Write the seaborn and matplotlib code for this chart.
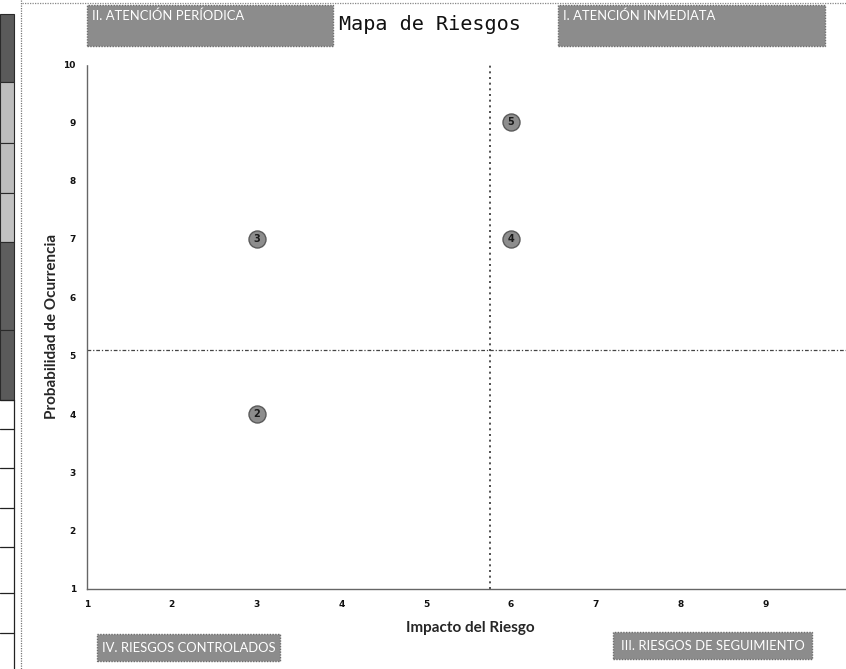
import matplotlib
matplotlib.use("Agg")
import matplotlib.pyplot as plt
from matplotlib.patches import Rectangle
from matplotlib.lines import Line2D
import seaborn as sns
import pandas as pd

# Risk map data
riesgo = ["2", "3", "4", "5"]
impacto = [3, 3, 6, 6]
probabilidad = [4, 7, 7, 9]
x_ticks = [1, 2, 3, 4, 5, 6, 7, 8, 9]
y_ticks = [1, 2, 3, 4, 5, 6, 7, 8, 9, 10]
corte_impacto = 5.75
corte_probabilidad = 5.1

df = pd.DataFrame({"riesgo": riesgo, "impacto": impacto, "probabilidad": probabilidad})

sns.set_theme(style="white")
plt.rcParams["font.family"] = ["DejaVu Sans"]

W, H = 846, 669
fig = plt.figure(figsize=(W / 100, H / 100), dpi=100)
fig.patch.set_facecolor("white")


def fx(px):
    return px / W


def fy(py):
    return 1 - py / H


ax = fig.add_axes([fx(87), fy(589), fx(846) - fx(87), fy(64) - fy(589)])
ax.set_facecolor("white")

sns.scatterplot(data=df, x="impacto", y="probabilidad", ax=ax, s=150,
                color="#8d8d8d", edgecolor="#5a5a5a", linewidth=1.0, zorder=4,
                legend=False)
for r, xv, yv in zip(df["riesgo"], df["impacto"], df["probabilidad"]):
    ax.text(xv, yv, r, ha="center", va="center", fontsize=7, fontweight="bold",
            color="#1a1a1a", zorder=5)

ax.axvline(corte_impacto, color="#333333", linestyle=(0, (1.2, 2.2)), linewidth=1.2, zorder=2)
ax.axhline(corte_probabilidad, color="#444444", linestyle=(0, (3, 1.5, 1, 1.5)), linewidth=0.9, zorder=2)

ax.set_xlim(1, 1 + (846 - 87) / 84.8)
ax.set_ylim(1, 10)
ax.set_xticks(x_ticks)
ax.set_yticks(y_ticks)
ax.set_xticklabels([str(v) for v in x_ticks], fontsize=6.5, fontweight="bold")
ax.set_yticklabels([str(v) for v in y_ticks], fontsize=6.5, fontweight="bold")
ax.tick_params(axis="both", length=0, colors="#111111")
ax.tick_params(axis="x", pad=8)
ax.tick_params(axis="y", pad=8)

for side in ["top", "right"]:
    ax.spines[side].set_visible(False)
for side in ["left", "bottom"]:
    ax.spines[side].set_visible(True)
    ax.spines[side].set_color("#666666")
    ax.spines[side].set_linewidth(1.0)
    ax.spines[side].set_linestyle((0, (1, 1)))

ax.set_xlabel("Impacto del Riesgo", fontsize=11, fontweight="bold",
              family=["Lato", "DejaVu Sans"], labelpad=4)
ax.set_ylabel("Probabilidad de Ocurrencia", fontsize=11, fontweight="bold",
              family=["Lato", "DejaVu Sans"], labelpad=8)
ax.xaxis.set_label_coords((470 - 87) / (846 - 87), -(621 - 589) / (589 - 64))
ax.yaxis.set_label_coords(-(87 - 59) / (846 - 87), (589 - 326) / (589 - 64))

# Quadrant labels
caja_font = ["Lato", "DejaVu Sans"]


def caja(x0, y0, x1, y1, texto, centrado=False, size=9.5):
    fig.add_artist(Rectangle((fx(x0), fy(y1)), fx(x1) - fx(x0), fy(y0) - fy(y1),
                             transform=fig.transFigure, facecolor="#8c8c8c",
                             edgecolor="#6e6e6e", linewidth=1.0,
                             linestyle=(0, (1, 1)), zorder=1))
    if centrado:
        fig.text(fx((x0 + x1) / 2), fy((y0 + y1) / 2), texto, ha="center", va="center",
                 color="white", fontsize=size, family=caja_font, zorder=2)
    else:
        fig.text(fx(x0 + 5), fy(y0 + 11), texto, ha="left", va="center",
                 color="white", fontsize=size, family=caja_font, zorder=2)


caja(87, 5, 333, 46, "II. ATENCIÓN PERÍODICA", size=9.4)
caja(558, 5, 825, 46, "I. ATENCIÓN INMEDIATA", size=9.4)
caja(97, 634, 280, 661, "IV. RIESGOS CONTROLADOS", centrado=True, size=9.4)
caja(613, 632, 812, 659, "III. RIESGOS DE SEGUIMIENTO", centrado=True, size=9.4)

fig.text(fx(430), fy(24), "Mapa de Riesgos", ha="center", va="center",
         fontsize=14.5, family=["DejaVu Sans Mono"], color="#111111")

# Page edge: table strip on the left and border lines
bloques = [(14, 82, "#5a5a5a"), (82, 143, "#bdbdbd"), (143, 193, "#bdbdbd"),
           (193, 242, "#c2c2c2"), (242, 330, "#5e5e5e"), (330, 400, "#5a5a5a")]
for y0, y1, c in bloques:
    fig.add_artist(Rectangle((0, fy(y1)), fx(14), fy(y0) - fy(y1), transform=fig.transFigure,
                             facecolor=c, edgecolor="#2a2a2a", linewidth=0.8))
for yl in [400, 429, 468, 508, 547, 593, 633]:
    fig.add_artist(Line2D([0, fx(14)], [fy(yl), fy(yl)], transform=fig.transFigure,
                          color="#222222", linewidth=0.9))
fig.add_artist(Line2D([fx(14), fx(14)], [fy(400), 0], transform=fig.transFigure,
                      color="#222222", linewidth=0.9))
fig.add_artist(Line2D([fx(21), fx(21)], [1, 0], transform=fig.transFigure,
                      color="#777777", linewidth=0.9, linestyle=(0, (1, 1))))
fig.add_artist(Line2D([fx(22), 1], [fy(3), fy(3)], transform=fig.transFigure,
                      color="#888888", linewidth=0.9, linestyle=(0, (1, 1))))

fig.savefig("out.png", dpi=100, facecolor="white")
